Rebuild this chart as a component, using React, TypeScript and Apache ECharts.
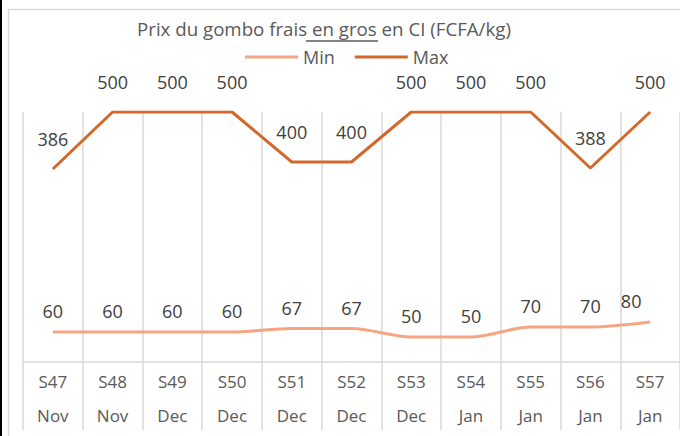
import React, { useEffect, useRef } from "react";
import * as echarts from "echarts";

const weeks = ["S47", "S48", "S49", "S50", "S51", "S52", "S53", "S54", "S55", "S56", "S57"];
const months = ["Nov", "Nov", "Dec", "Dec", "Dec", "Dec", "Dec", "Jan", "Jan", "Jan", "Jan"];
const minPrices = [60, 60, 60, 60, 67, 67, 50, 50, 70, 70, 80];
const maxPrices = [386, 500, 500, 500, 400, 400, 500, 500, 500, 388, 500];

const FONT = "'Open Sans', sans-serif";
const TEXT = "#404040";
const GRID = "#D9D9D9";

export default function App() {
  const ref = useRef<HTMLDivElement>(null);
  useEffect(() => {
    document.body.style.margin = "0";
    if (!ref.current) return;
    const chart = echarts.init(ref.current, null, { renderer: "svg" });
    const categories = weeks.map((w, i) => w + "\n" + months[i]);
    chart.setOption({
      animation: false,
      backgroundColor: "#ffffff",
      textStyle: { fontFamily: FONT },
      title: {
        text: "Prix du gombo frais en gros en CI (FCFA/kg)",
        left: 137,
        top: 19,
        padding: 0,
        textStyle: { fontFamily: FONT, fontSize: 18.7, fontWeight: "normal", color: "#595959" },
      },
      legend: {
        left: 245,
        top: 48,
        padding: 0,
        itemWidth: 53,
        itemHeight: 3,
        itemGap: 20,
        icon: "rect",
        textStyle: { fontFamily: FONT, fontSize: 18, color: "#595959" },
        data: ["Min", "Max"],
      },
      graphic: [
        { type: "rect", left: 0, top: 0, shape: { width: 2, height: 436 }, style: { fill: "#000" } },
        {
          type: "rect",
          shape: { x: 8.5, y: 9.5, width: 700, height: 500 },
          style: { fill: "none", stroke: GRID, lineWidth: 1.5 },
          silent: true,
        },
        {
          type: "line",
          shape: { x1: 306, y1: 41, x2: 378, y2: 41 },
          style: { stroke: "#595959", lineWidth: 1.5 },
        },
      ],
      grid: { left: 23, top: 112, width: 664, height: 250, containLabel: false },
      xAxis: {
        type: "category",
        data: categories,
        boundaryGap: true,
        axisLine: { show: true, lineStyle: { color: GRID, width: 1.5 } },
        axisTick: { show: true, length: 68, interval: 0, lineStyle: { color: GRID, width: 1.5 } },
        splitLine: { show: true, interval: 0, lineStyle: { color: GRID, width: 1.5 } },
        axisLabel: {
          interval: 0,
          margin: 2,
          lineHeight: 34,
          fontFamily: FONT,
          fontSize: 17,
          color: "#595959",
        },
      },
      yAxis: {
        type: "value",
        min: 0,
        max: 500,
        show: false,
        splitLine: { show: false },
      },
      series: [
        {
          name: "Min",
          type: "line",
          data: minPrices.map((v, i) =>
            i === minPrices.length - 1 ? { value: v, label: { offset: [-19, 0] } } : v
          ),
          smooth: 0.3,
          symbol: "circle",
          symbolSize: 0,
          showSymbol: true,
          showAllSymbol: true,
          lineStyle: { color: "#F4A683", width: 3 },
          itemStyle: { color: "#F4A683" },
          label: {
            show: true,
            position: "top",
            distance: 12,
            fontFamily: FONT,
            fontSize: 18,
            color: TEXT,
          },
        },
        {
          name: "Max",
          type: "line",
          data: maxPrices,
          symbol: "circle",
          symbolSize: 0,
          showSymbol: true,
          showAllSymbol: true,
          lineStyle: { color: "#D2692A", width: 3 },
          itemStyle: { color: "#D2692A" },
          label: {
            show: true,
            position: "top",
            distance: 21,
            fontFamily: FONT,
            fontSize: 18,
            color: TEXT,
          },
        },
      ],
    });
    return () => chart.dispose();
  }, []);
  return <div ref={ref} style={{ width: 680, height: 436 }} />;
}
